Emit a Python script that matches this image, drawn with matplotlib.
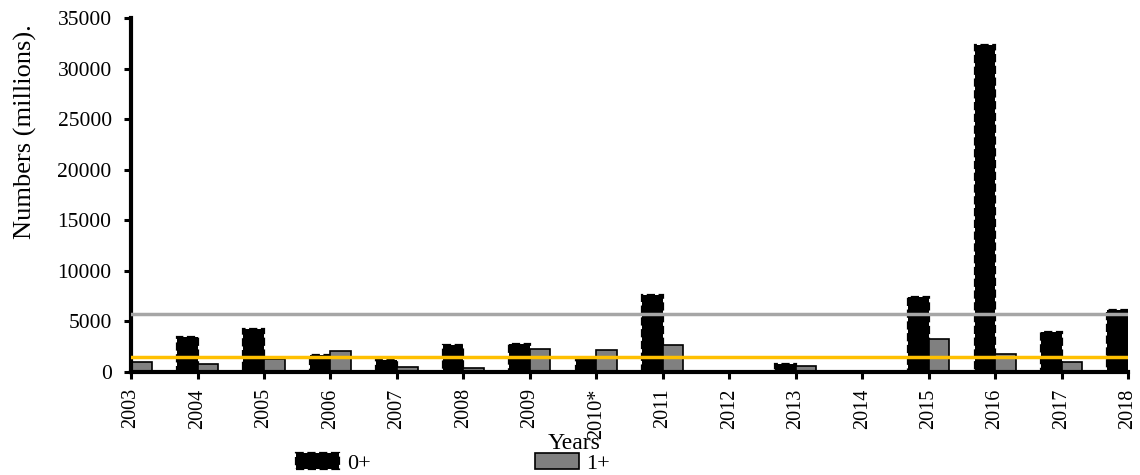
import matplotlib.pyplot as plt
import numpy as np

plt.rcParams['font.family'] = ['Liberation Serif', 'DejaVu Serif']

# data
years = ['2003', '2004', '2005', '2006', '2007', '2008', '2009', '2010*',
         '2011', '2012', '2013', '2014', '2015', '2016', '2017', '2018']
age0 = [0, 3400, 4200, 1700, 1150, 2650, 2750, 1250,
        7600, 0, 780, 0, 7400, 32300, 3900, 6150]
age1 = [950, 800, 1250, 2000, 500, 400, 2200, 2150,
        2600, 0, 600, 0, 3200, 1750, 1000, 0]
mean0 = 5700   # grey reference line
mean1 = 1450   # yellow reference line

fig = plt.figure(figsize=(11.4, 4.75), dpi=100)
ax = fig.add_axes([0.115, 0.2175, 0.8745, 0.7445])

x = np.arange(len(years))
w = 0.31
ax.bar(x - w / 2, age0, w, color='black', edgecolor='black',
       linestyle='--', linewidth=1.6, label='0+', zorder=2)
ax.bar(x + w / 2, age1, w, color='#808080', edgecolor='black',
       linewidth=1.2, label='1+', zorder=2)
ax.axhline(mean0, color='#A6A6A6', linewidth=2.5, zorder=3)
ax.axhline(mean1, color='#FFC000', linewidth=2.5, zorder=3)

ax.set_xlim(0, len(years) - 1)
ax.set_ylim(0, 35000)
ax.set_yticks(range(0, 35001, 5000))
ax.set_xticks(x)
ax.set_xticklabels(years, rotation=90)
ax.tick_params(width=2.2, length=5, direction='out')
ax.tick_params(axis='y', labelsize=15.5, pad=9)
ax.tick_params(axis='x', labelsize=14.5, pad=7)

for s in ['top', 'right']:
    ax.spines[s].set_visible(False)
for s in ['left', 'bottom']:
    ax.spines[s].set_linewidth(3)

fig.text(0.022, 0.722, 'Numbers (millions).', fontsize=19, rotation=90,
         ha='center', va='center')
fig.text(0.504, 0.066, 'Years', fontsize=17, ha='center', va='center')

fig.legend(loc='center', bbox_to_anchor=(0.3975, 0.025), ncol=2, frameon=False,
           fontsize=16, handlelength=1.95, handleheight=0.75,
           columnspacing=7.4, handletextpad=0.35)

fig.savefig('out.png', dpi=100)
